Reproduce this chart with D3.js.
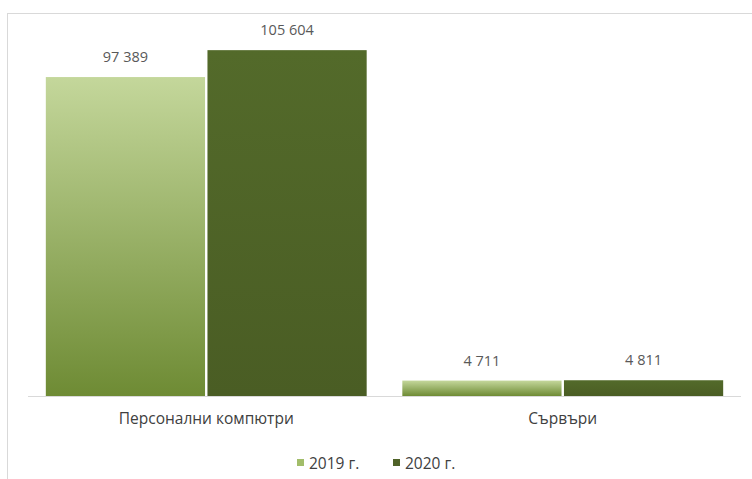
<!DOCTYPE html>
<html><head><meta charset="utf-8">
<script src="https://cdn.jsdelivr.net/npm/d3@7"></script>
<style>body{margin:0;background:#fff;}svg{display:block;}</style>
</head><body>
<svg id="c" width="752" height="479"></svg>
<script>
const categories = ["Персонални компютри", "Сървъри"];
const seriesNames = ["2019 г.", "2020 г."];
const values2019 = [97389, 4711];
const values2020 = [105604, 4811];
const labels2019 = ["97 389", "4 711"];
const labels2020 = ["105 604", "4 811"];

(function(){
const svg = d3.select("#c");
const W = 752, H = 479;
const font = "'Open Sans','Noto Sans',sans-serif";
const txt = "#595959";

const defs = svg.append("defs");
const g1 = defs.append("linearGradient").attr("id","g2019").attr("x1",0).attr("y1",0).attr("x2",0).attr("y2",1);
g1.append("stop").attr("offset","0%").attr("stop-color","#c4d79b");
g1.append("stop").attr("offset","100%").attr("stop-color","#6e8b34");
const g2 = defs.append("linearGradient").attr("id","g2020").attr("x1",0).attr("y1",0).attr("x2",0).attr("y2",1);
g2.append("stop").attr("offset","0%").attr("stop-color","#536a2a");
g2.append("stop").attr("offset","100%").attr("stop-color","#4a5d24");
const fills = ["url(#g2019)","url(#g2020)"];
const legendFills = ["#a2bd6a","#4f6228"];

// frame
svg.append("rect").attr("x",7.5).attr("y",13.5).attr("width",W).attr("height",H)
  .attr("fill","#fff").attr("stroke","#d9d9d9");

const plotL = 28, plotR = 741, base = 396, plotTop = 3;
const x0 = d3.scaleBand().domain(categories).range([plotL, plotR]).paddingInner(0.1).paddingOuter(0.05);
const x1 = d3.scaleBand().domain(seriesNames).range([0, x0.bandwidth()]).paddingInner(0.015);
const y = d3.scaleLinear().domain([0, 120000]).range([base, plotTop]);

const data = categories.map((c,i)=>({cat:c, vals:[values2019[i], values2020[i]], labs:[labels2019[i], labels2020[i]]}));

const groups = svg.append("g").selectAll("g").data(data).join("g")
  .attr("transform", d=>`translate(${x0(d.cat)},0)`);

groups.selectAll("rect").data(d=>d.vals.map((v,j)=>({v, j, s:seriesNames[j]}))).join("rect")
  .attr("x", d=>x1(d.s)).attr("width", x1.bandwidth())
  .attr("y", d=>y(d.v)).attr("height", d=>base - y(d.v))
  .attr("fill", d=>fills[d.j]);

groups.selectAll("text").data(d=>d.vals.map((v,j)=>({v, j, s:seriesNames[j], l:d.labs[j]}))).join("text")
  .attr("x", d=>x1(d.s)+x1.bandwidth()/2).attr("y", d=>y(d.v)-15)
  .attr("text-anchor","middle").attr("font-family",font).attr("font-size",14.5)
  .attr("fill",txt).text(d=>d.l);

// axis
const ax = svg.append("g").attr("transform",`translate(0,${base})`)
  .call(d3.axisBottom(x0).tickSize(0).tickPadding(17));
ax.select(".domain").attr("stroke","#d9d9d9").attr("d",`M${plotL},0.5H${plotR}`);
ax.selectAll("text").attr("font-family",font).attr("font-size",15.5).attr("fill","#404040");

// legend
const leg = svg.append("g");
const legX = [297, 393];
seriesNames.forEach((s,i)=>{
  leg.append("rect").attr("x",legX[i]).attr("y",459).attr("width",7).attr("height",7).attr("fill",legendFills[i]);
  leg.append("text").attr("x",legX[i]+12).attr("y",468.5).attr("font-family",font).attr("font-size",15.5)
    .attr("fill","#404040").text(s);
});
})();
</script>
</body></html>
